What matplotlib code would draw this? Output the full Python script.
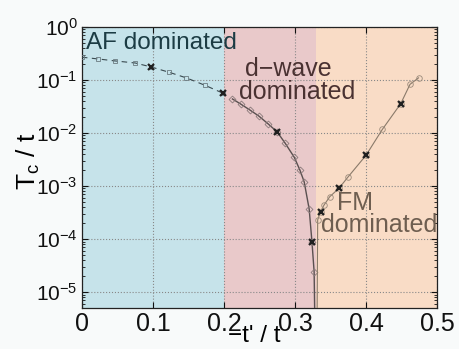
import numpy as np
import matplotlib.pyplot as plt

plt.rcParams['font.family'] = ['Liberation Sans', 'DejaVu Sans']
plt.rcParams['mathtext.fontset'] = 'custom'
plt.rcParams['mathtext.rm'] = 'Liberation Sans'
plt.rcParams['mathtext.it'] = 'Liberation Sans'

# Tc vs -t' for the three regimes
af_x = [0.0, 0.023, 0.046, 0.075, 0.098, 0.123, 0.147, 0.173, 0.198]
af_y = [0.27, 0.25, 0.23, 0.21, 0.176, 0.14, 0.11, 0.08, 0.057]

dw_x = [0.212, 0.224, 0.237, 0.249, 0.262, 0.275, 0.286, 0.299, 0.307, 0.313,
        0.320, 0.324, 0.327, 0.3295]
dw_y = [0.044, 0.035, 0.027, 0.021, 0.015, 0.0105, 0.0065, 0.0035, 0.002, 0.0012,
        3.7e-4, 8.7e-5, 2.4e-5, 1e-7]

fm_x = [0.3305, 0.332, 0.336, 0.341, 0.349, 0.362, 0.375, 0.400, 0.423, 0.449,
        0.462, 0.474]
fm_y = [1e-7, 2.3e-4, 3.3e-4, 4.4e-4, 6.3e-4, 9.1e-4, 1.5e-3, 3.8e-3, 0.0117,
        0.036, 0.083, 0.11]

# crossed points
cross_x = [0.098, 0.198, 0.275, 0.324, 0.336, 0.362, 0.400, 0.449]
cross_y = [0.176, 0.057, 0.0105, 8.7e-5, 3.3e-4, 9.1e-4, 3.8e-3, 0.036]

# phase boundaries
bounds = [0.0, 0.2, 0.329, 0.5]
region_colors = ['#c6e3ea', '#e9c9ca', '#f9dcc6']

fig = plt.figure(figsize=(4.6, 3.49), dpi=100)
ax = fig.add_axes([0.178, 0.1175, 0.772, 0.805])

for i in range(3):
    ax.axvspan(bounds[i], bounds[i + 1], color=region_colors[i], zorder=0, lw=0)

ax.plot(af_x, af_y, ls=(0, (5, 4)), color='#3a4a50', lw=0.8,
        marker='s', ms=3.5, mfc='none', mec='#6a7a80', mew=0.6, zorder=3)
ax.plot(dw_x, dw_y, '-', color='#5a5050', lw=1.0,
        marker='D', ms=3.5, mfc='none', mec='#8a7a7a', mew=0.6, zorder=3)
ax.plot(fm_x, fm_y, '-', color='#8a7a6a', lw=0.8,
        marker='o', ms=4, mfc='none', mec='#9a8a7a', mew=0.6, zorder=3)
ax.plot(cross_x, cross_y, 'x', color='#202020', ms=5, mew=1.6, ls='none', zorder=4)

ax.set_yscale('log')
ax.set_xlim(0, 0.5)
ax.set_ylim(10 ** -5.3, 1)
ax.set_xticks([0, 0.1, 0.2, 0.3, 0.4, 0.5])
ax.set_xticklabels(['0', '0.1', '0.2', '0.3', '0.4', '0.5'])
ax.set_yticks([1e-5, 1e-4, 1e-3, 1e-2, 1e-1, 1e0])
ax.set_yticklabels(['$10^{-5}$', '$10^{-4}$', '$10^{-3}$', '$10^{-2}$',
                    '$10^{-1}$', '$10^{0}$'])
ax.tick_params(which='both', direction='in', top=True, right=True,
               colors='#111111', pad=3)
ax.tick_params(axis='x', labelsize=18)
ax.tick_params(axis='y', labelsize=15)
ax.tick_params(which='major', length=4)
ax.tick_params(which='minor', length=2)
ax.grid(True, which='major', ls=':', color='#888888', lw=0.8)
for s in ax.spines.values():
    s.set_color('#222222')
    s.set_linewidth(0.9)

ax.set_xlabel("\u2212t' / t", fontsize=17.5, va='center')
ax.xaxis.set_label_coords(0.485, -0.1)
ax.set_ylabel('$\\mathrm{T_c}$ / t', fontsize=19, va='center')
ax.yaxis.set_label_coords(-0.152, 0.523)

ax.text(0.006, 0.5, 'AF dominated', fontsize=17.5, color='#1c3c44', va='center')
ax.text(0.229, 0.162, 'd\u2212wave', fontsize=18, color='#4a3232', va='center')
ax.text(0.221, 0.059, 'dominated', fontsize=18, color='#4a3232', va='center')
ax.text(0.359, 4.8e-4, 'FM', fontsize=18, color='#6e5e50', va='center')
ax.text(0.336, 1.84e-4, 'dominated', fontsize=18, color='#6e5e50', va='center')

fig.savefig('out.png', dpi=100, facecolor='#f8fafa')
